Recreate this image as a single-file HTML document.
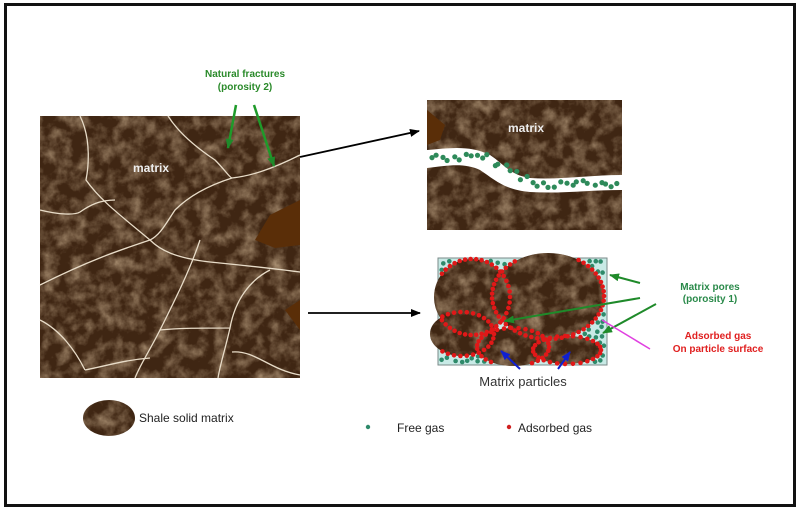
<!DOCTYPE html>
<html><head><meta charset="utf-8"><style>
html,body{margin:0;padding:0;background:#fff;}
svg{display:block;}
text{font-family:"Liberation Sans",Arial,sans-serif;}
</style></head><body>
<svg id="s" width="801" height="512" viewBox="0 0 801 512" xmlns="http://www.w3.org/2000/svg">
<defs>
<filter id="tex" x="0" y="0" width="100%" height="100%">
<feTurbulence type="fractalNoise" baseFrequency="0.07" numOctaves="4" seed="4" result="n"/>
<feColorMatrix in="n" type="matrix" values="0 0 0 0 0.60  0 0 0 0 0.44  0 0 0 0 0.28  1.3 0 0 0 -0.5" result="c"/>
<feComposite in="c" in2="SourceGraphic" operator="in"/>
</filter>
<clipPath id="c1"><ellipse cx="472" cy="297" rx="38" ry="38"/><ellipse cx="548" cy="296" rx="56" ry="43"/><ellipse cx="462" cy="334" rx="32" ry="22"/><ellipse cx="513" cy="347" rx="36" ry="19"/><ellipse cx="567" cy="350" rx="34" ry="14"/></clipPath>
<marker id="ab" markerWidth="10" markerHeight="8" refX="9" refY="4" orient="auto" markerUnits="userSpaceOnUse"><path d="M0,0 L10,4 L0,8 z" fill="#000"/></marker>
<marker id="ag" markerWidth="10" markerHeight="8" refX="9" refY="4" orient="auto" markerUnits="userSpaceOnUse"><path d="M0,0 L10,4 L0,8 z" fill="#1f8a2a"/></marker>
<marker id="abl" markerWidth="10" markerHeight="8" refX="9" refY="4" orient="auto" markerUnits="userSpaceOnUse"><path d="M0,0 L10,4 L0,8 z" fill="#1020d0"/></marker>
</defs>
<rect x="5.5" y="4.5" width="789" height="501" fill="#fff" stroke="#111" stroke-width="3"/>

<rect x="40" y="116" width="260" height="262" fill="#3f2613"/>
<rect x="40" y="116" width="260" height="262" fill="#3f2613" filter="url(#tex)"/>
<path d="M300,200 L270,215 L255,240 L275,248 L300,245 Z M300,300 L285,310 L300,330 Z" fill="#5a2e08"/>
<g fill="none" stroke="#e8dcc8" stroke-width="1.3">
<path d="M80,116 C92,140 88,170 86,180 C100,200 120,215 150,240 C160,250 175,258 210,262 C240,265 270,268 300,272"/>
<path d="M168,116 C180,135 200,150 215,160 C225,170 230,178 232,178 C250,176 270,170 300,155"/>
<path d="M232,178 C210,185 190,195 175,210 C165,225 160,235 150,240"/>
<path d="M40,210 C60,215 75,215 80,212 C90,205 100,200 115,200"/>
<path d="M150,240 C120,250 90,260 40,285"/>
<path d="M200,240 C190,270 175,300 160,330 C150,350 140,365 135,378"/>
<path d="M40,320 C60,330 75,350 85,370"/>
<path d="M160,330 C180,328 200,328 230,328 C235,300 250,280 270,270"/>
<path d="M230,328 C225,350 220,365 218,378"/>
<path d="M232,352 C255,350 270,370 300,375"/>
<path d="M85,370 C110,365 125,360 150,358"/>
</g>
<text x="133" y="172" font-size="12" font-weight="bold" fill="#eee">matrix</text>

<text x="245" y="77" font-size="10" font-weight="bold" fill="#2a8a2a" text-anchor="middle">Natural fractures</text>
<text x="245" y="90" font-size="10" font-weight="bold" fill="#2a8a2a" text-anchor="middle">(porosity 2)</text>
<line x1="236" y1="105" x2="228" y2="148" stroke="#1f9a2a" stroke-width="2.5" marker-end="url(#ag)"/>
<line x1="254" y1="105" x2="274" y2="166" stroke="#1f9a2a" stroke-width="2.5" marker-end="url(#ag)"/>

<line x1="300" y1="157" x2="419" y2="131" stroke="#000" stroke-width="1.8" marker-end="url(#ab)"/>
<line x1="308" y1="313" x2="420" y2="313" stroke="#000" stroke-width="1.8" marker-end="url(#ab)"/>

<rect x="427" y="100" width="195" height="130" fill="#3f2613"/>
<rect x="427" y="100" width="195" height="130" fill="#3f2613" filter="url(#tex)"/>
<path d="M427,110 L445,125 L440,140 L427,145 Z" fill="#5a2e08"/>
<path d="M427,150 C450,148 470,145 490,155 C505,165 510,175 530,178 C560,180 590,175 622,175 L622,190 C590,190 560,194 530,192 C505,190 495,180 480,170 C465,163 450,165 427,168 Z" fill="#fff"/>
<text x="508" y="132" font-size="12" font-weight="bold" fill="#eee">matrix</text>
<g id="fd" fill="#2e8a5a"></g>

<rect x="438" y="258" width="169" height="107" fill="#c8eae6" stroke="#7a8a88" stroke-width="1"/>
<g clip-path="url(#c1)"><rect x="420" y="250" width="200" height="120" fill="#3f2613"/><rect x="420" y="250" width="200" height="120" fill="#3f2613" filter="url(#tex)"/></g>
<g id="gd" fill="#2e8a6a"></g>
<g id="rd" fill="#e01818"></g>

<line x1="640" y1="283" x2="610" y2="275" stroke="#1f8a2a" stroke-width="2" marker-end="url(#ag)"/>
<line x1="640" y1="298" x2="505" y2="321" stroke="#1f8a2a" stroke-width="2" marker-end="url(#ag)"/>
<line x1="656" y1="304" x2="603" y2="333" stroke="#1f8a2a" stroke-width="2" marker-end="url(#ag)"/>
<line x1="650" y1="349" x2="602" y2="320" stroke="#e040e0" stroke-width="1.5"/>
<text x="710" y="290" font-size="10" font-weight="bold" fill="#2a8a4a" text-anchor="middle">Matrix pores</text>
<text x="710" y="302" font-size="10" font-weight="bold" fill="#2a8a4a" text-anchor="middle">(porosity 1)</text>
<text x="718" y="339" font-size="10" font-weight="bold" fill="#e02020" text-anchor="middle">Adsorbed gas</text>
<text x="718" y="352" font-size="10" font-weight="bold" fill="#e02020" text-anchor="middle">On particle surface</text>
<line x1="520" y1="369" x2="501" y2="351" stroke="#1020d0" stroke-width="2" marker-end="url(#abl)"/>
<line x1="558" y1="369" x2="570" y2="352" stroke="#1020d0" stroke-width="2" marker-end="url(#abl)"/>
<text x="523" y="386" font-size="13" fill="#333" text-anchor="middle">Matrix particles</text>

<ellipse cx="109" cy="418" rx="26" ry="18" fill="#3f2613"/>
<ellipse cx="109" cy="418" rx="26" ry="18" fill="#3f2613" filter="url(#tex)"/>
<text x="139" y="422" font-size="12" fill="#222">Shale solid matrix</text>
<circle cx="368" cy="427" r="2.2" fill="#2e8a6a"/>
<text x="397" y="432" font-size="12" fill="#222">Free gas</text>
<circle cx="509" cy="427" r="2.2" fill="#d02020"/>
<text x="518" y="432" font-size="12" fill="#222">Adsorbed gas</text>
</svg>
<script>
(function(){
var NS="http://www.w3.org/2000/svg";
function c(g,x,y,r){var e=document.createElementNS(NS,"circle");e.setAttribute("cx",x.toFixed(1));e.setAttribute("cy",y.toFixed(1));e.setAttribute("r",r);g.appendChild(e);}
var s=7;function rnd(){s=(s*9301+49297)%233280;return s/233280;}
var fd=document.getElementById("fd");
for(var i=0;i<34;i++){var t=i/33;var x=432+t*185;var y;
 if(x<490)y=157+(x-427)*0.02;else if(x<530)y=160+(x-490)*0.5;else y=184;
 c(fd,x+rnd()*4-2,y+rnd()*8-4,2.6);}
var E=[[472,297,38,38],[548,296,56,43],[462,334,32,22],[513,347,36,19],[567,350,34,14]];
var gd=document.getElementById("gd");var pts=[];
for(var i=0;i<4000&&pts.length<400;i++){var x=441+rnd()*163,y=261+rnd()*101,ok=true;
 for(var k=0;k<E.length;k++){var e=E[k];var dx=(x-e[0])/(e[2]+2.5),dy=(y-e[1])/(e[3]+2.5);if(dx*dx+dy*dy<1){ok=false;break;}}
 if(ok){for(var p=0;p<pts.length;p++){var ddx=pts[p][0]-x,ddy=pts[p][1]-y;if(ddx*ddx+ddy*ddy<22){ok=false;break;}}}
 if(ok){pts.push([x,y]);c(gd,x,y,2.3);}}
var rd=document.getElementById("rd");
for(var k=0;k<E.length;k++){var e=E[k];var n=Math.round(Math.PI*(e[2]+e[3])/5.5);
 for(var j=0;j<n;j++){var a=j/n*2*Math.PI;var x=e[0]+e[2]*Math.cos(a),y=e[1]+e[3]*Math.sin(a);
  if(x<439||x>606||y<259||y>364)continue;c(rd,x,y,2.3);}}
})();
</script>
</body></html>
